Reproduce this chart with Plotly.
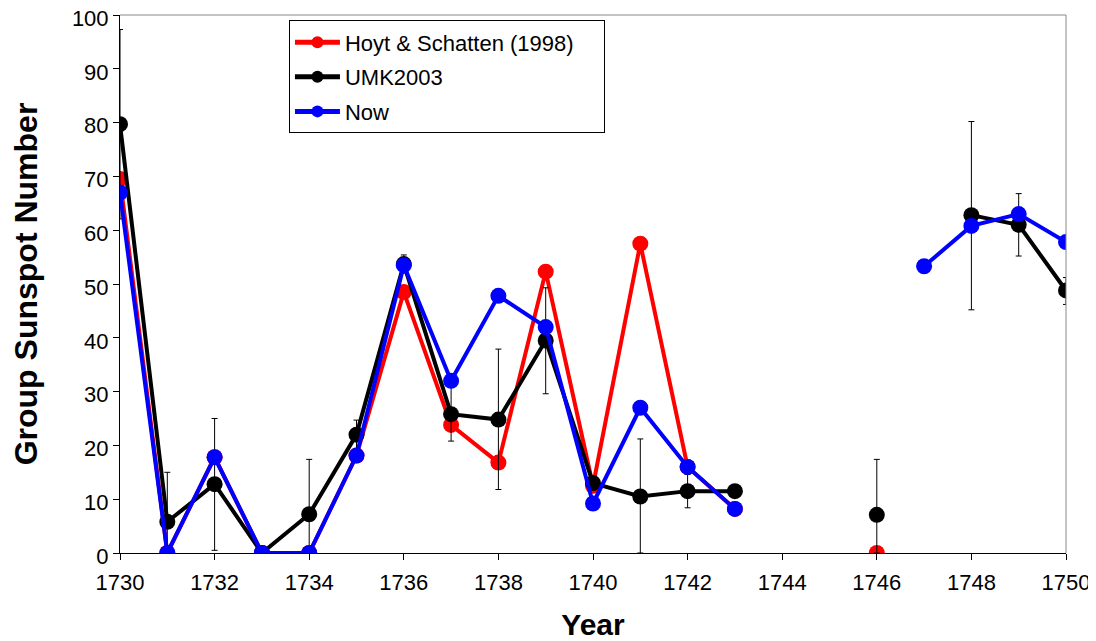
import plotly.graph_objects as go

# years 1730..1750, None = no observation
years = list(range(1730, 1751))

hoyt = [69.5, 0, 17.8, 0, 0, 18.1, 48.5, 23.8, 16.8, 52.3, 12.5, 57.5, 16, 8.2,
        None, None, 0, None, None, None, None]
umk = [79.7, 5.8, 12.8, 0, 7.2, 22, 53.7, 25.8, 24.8, 39.5, 13, 10.5, 11.5, 11.5,
       None, None, 7.1, None, 62.8, 61, 48.8]
now = [67, 0, 17.8, 0, 0, 18.1, 53.5, 32, 47.8, 42, 9.2, 27, 16, 8.2,
       None, None, None, 53.3, 60.8, 63, 57.8]

# error bar extents (upper / lower) for UMK2003
umk_err_up = [17.6, 9.2, 12.2, 0, 10.2, 2.7, 1.7, 5.1, 13.1, 9.8, 0, 10.7, 3.1, 0,
              0, 0, 10.3, 0, 17.4, 5.8, 2.4]
umk_err_down = [17.6, 5.8, 12.3, 0, 7.2, 2.7, 1.7, 5.0, 13.0, 9.9, 0, 10.5, 3.1, 0,
                0, 0, 7.1, 0, 17.6, 5.8, 2.6]

fig = go.Figure()

fig.add_trace(go.Scatter(
    x=years, y=hoyt, name='Hoyt & Schatten (1998)\u00a0\u00a0\u00a0\u00a0', mode='lines+markers',
    line=dict(color='#ff0000', width=4), marker=dict(color='#ff0000', size=16),
    legendgroup='a', connectgaps=False))

fig.add_trace(go.Scatter(
    x=years, y=umk, name='UMK2003', mode='lines+markers',
    line=dict(color='#000000', width=4), marker=dict(color='#000000', size=16),
    error_y=dict(type='data', array=umk_err_up, arrayminus=umk_err_down,
                 color='#000000', thickness=1, width=3),
    legendgroup='b', connectgaps=False))

fig.add_trace(go.Scatter(
    x=years, y=now, name='Now', mode='lines+markers',
    line=dict(color='#0000ff', width=4), marker=dict(color='#0000ff', size=16),
    legendgroup='c', connectgaps=False))

# grey frame on top and right like the original
fig.add_shape(type='line', xref='paper', yref='paper', x0=0, x1=1, y0=1, y1=1,
              line=dict(color='#888888', width=1))
fig.add_shape(type='line', xref='paper', yref='paper', x0=1, x1=1, y0=0, y1=1,
              line=dict(color='#888888', width=1))

fig.update_xaxes(
    range=[1730, 1750], tick0=1730, dtick=2, ticks='outside', ticklen=6,
    tickcolor='black', showline=True, linecolor='black', linewidth=1,
    showgrid=False, zeroline=False, automargin=False, ticklabelstandoff=4,
    ticklabeloverflow='allow',
    title=dict(text='<b>Year</b>', font=dict(size=30, color='black'), standoff=20),
    tickfont=dict(size=22, color='black'))

fig.update_yaxes(
    range=[0, 100], dtick=10, ticks='outside', ticklen=6, tickcolor='black',
    showline=True, linecolor='black', linewidth=1, showgrid=False, zeroline=False,
    automargin=False, ticklabelstandoff=0, ticklabeloverflow='allow',
    ticklabelshift=3,
    title=dict(text='<b>Group Sunspot Number</b>', font=dict(size=32, color='black'),
               standoff=37),
    tickfont=dict(size=22, color='black'))

# page body adds an 8px offset, so the figure is made 8px smaller and margins shifted
fig.update_layout(
    width=1088, height=633,
    margin=dict(l=112, r=30, t=7, b=88),
    plot_bgcolor='white', paper_bgcolor='white',
    font=dict(family='Liberation Sans, Arial, sans-serif', color='black'),
    legend=dict(x=0.1786, y=0.99, xanchor='left', yanchor='top',
                bgcolor='white', bordercolor='black', borderwidth=1,
                font=dict(size=22, color='black'), itemwidth=45,
                itemsizing='constant', tracegroupgap=3),
    showlegend=True)

fig.write_html('out.html')
